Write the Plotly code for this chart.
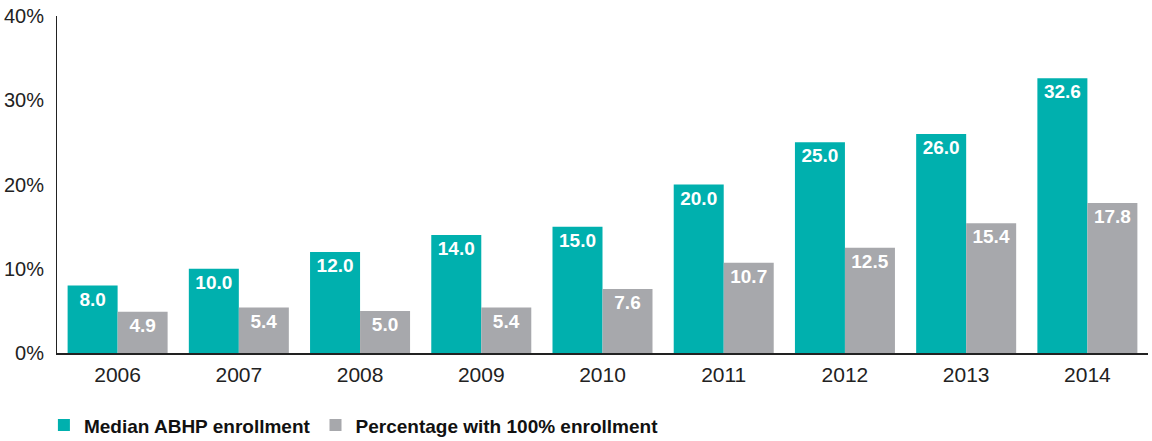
import plotly.graph_objects as go

years = ["2006", "2007", "2008", "2009", "2010", "2011", "2012", "2013", "2014"]
median_abhp = [8.0, 10.0, 12.0, 14.0, 15.0, 20.0, 25.0, 26.0, 32.6]
pct_full = [4.9, 5.4, 5.0, 5.4, 7.6, 10.7, 12.5, 15.4, 17.8]

teal = "#00B0AE"
gray = "#A7A8AC"

label_font = dict(family="Liberation Sans, Arial, sans-serif", size=19, color="white")

fig = go.Figure()
fig.add_trace(go.Bar(
    x=years, y=median_abhp, name="<b>Median ABHP enrollment</b>",
    marker=dict(color=teal, line=dict(width=0)),
    text=[f"<b>{v:.1f}</b>" for v in median_abhp],
    textposition="inside", insidetextanchor="end",
    textfont=label_font, textangle=0,
))
fig.add_trace(go.Bar(
    x=years, y=pct_full, name="<b>Percentage with 100% enrollment</b>",
    marker=dict(color=gray, line=dict(width=0)),
    text=[f"<b>{v:.1f}</b>" for v in pct_full],
    textposition="inside", insidetextanchor="end",
    textfont=label_font, textangle=0,
))

fig.update_layout(
    width=1152, height=441,
    margin=dict(l=57, r=4, t=16, b=88, autoexpand=False),
    paper_bgcolor="white", plot_bgcolor="white",
    barmode="group", bargap=0.175, bargroupgap=0,
    font=dict(family="Liberation Sans, Arial, sans-serif", size=20, color="#222222"),
    uniformtext=dict(minsize=10, mode="show"),
    showlegend=True,
    legend=dict(
        orientation="h", x=-0.012, xanchor="left", y=-0.158, yanchor="top",
        font=dict(size=19, color="#111111"),
        traceorder="normal", itemwidth=30, tracegroupgap=0,
    ),
)
fig.update_xaxes(
    showline=True, linecolor="#222222", linewidth=2,
    ticks="", showgrid=False, tickfont=dict(size=21),
    ticklabelstandoff=2,
)
fig.update_yaxes(
    range=[0, 40], dtick=10, ticksuffix="%",
    showline=True, linecolor="#222222", linewidth=1,
    ticks="", showgrid=False, zeroline=False, tickfont=dict(size=20),
    ticklabelstandoff=8,
)

fig.write_html("out.html")
